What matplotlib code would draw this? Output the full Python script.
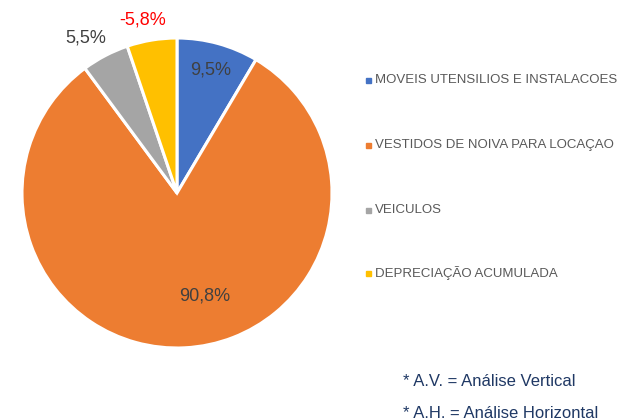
import numpy as np
import matplotlib.pyplot as plt
from matplotlib.patches import Rectangle

# --- data ---
categories = [
    "MOVEIS UTENSILIOS E INSTALACOES",
    "VESTIDOS DE NOIVA PARA LOCAÇAO",
    "VEICULOS",
    "DEPRECIAÇÃO ACUMULADA",
]
values = [9.5, 90.8, 5.5, -5.8]
colors = ["#4472C4", "#ED7D31", "#A5A5A5", "#FFC000"]
notes = ["* A.V. = Análise Vertical", "* A.H. = Análise Horizontal"]

W, H = 618, 420
CX, CY, R = 177, 193, 155      # pie centre / radius in pixels
LABEL_DIST = [0.82, 0.69, 1.16, 1.14]
LABEL_SHIFT = [0, 12, 3, 2]    # degrees, nudges Excel-like placement

plt.rcParams["font.family"] = ["Liberation Sans", "DejaVu Sans"]

fig = plt.figure(figsize=(W / 100, H / 100), dpi=100)
fig.patch.set_facecolor("white")

ax = fig.add_axes([(CX - R) / W, (H - CY - R) / H, 2 * R / W, 2 * R / H])
wedges, _ = ax.pie(
    np.abs(values), colors=colors, startangle=90, counterclock=False,
    wedgeprops=dict(edgecolor="white", linewidth=2.2),
)
ax.set_xlim(-1, 1)
ax.set_ylim(-1, 1)
ax.set_aspect("equal")
ax.axis("off")

# data labels
for w, v, d, s in zip(wedges, values, LABEL_DIST, LABEL_SHIFT):
    ang = np.deg2rad((w.theta1 + w.theta2) / 2 + s)
    txt = f"{v:.1f}%".replace(".", ",")
    col = "#FF0000" if v < 0 else "#404040"
    ax.text(d * np.cos(ang), d * np.sin(ang), txt, ha="center", va="center",
            fontsize=13, color=col, clip_on=False)

# legend
leg_y = [80, 145, 210, 273]
for lab, col, y in zip(categories, colors, leg_y):
    fig.patches.append(Rectangle((366 / W, (H - y - 3) / H), 5 / W, 5 / H,
                                 transform=fig.transFigure, color=col))
    fig.text(375 / W, (H - y) / H, lab, ha="left", va="center",
             fontsize=9.5, color="#595959")

# footnotes
for i, n in enumerate(notes):
    fig.text(403 / W, (H - 382 - 31 * i) / H, n, ha="left", va="center",
             fontsize=12, color="#1F3864")

fig.savefig("out.png", dpi=100)
